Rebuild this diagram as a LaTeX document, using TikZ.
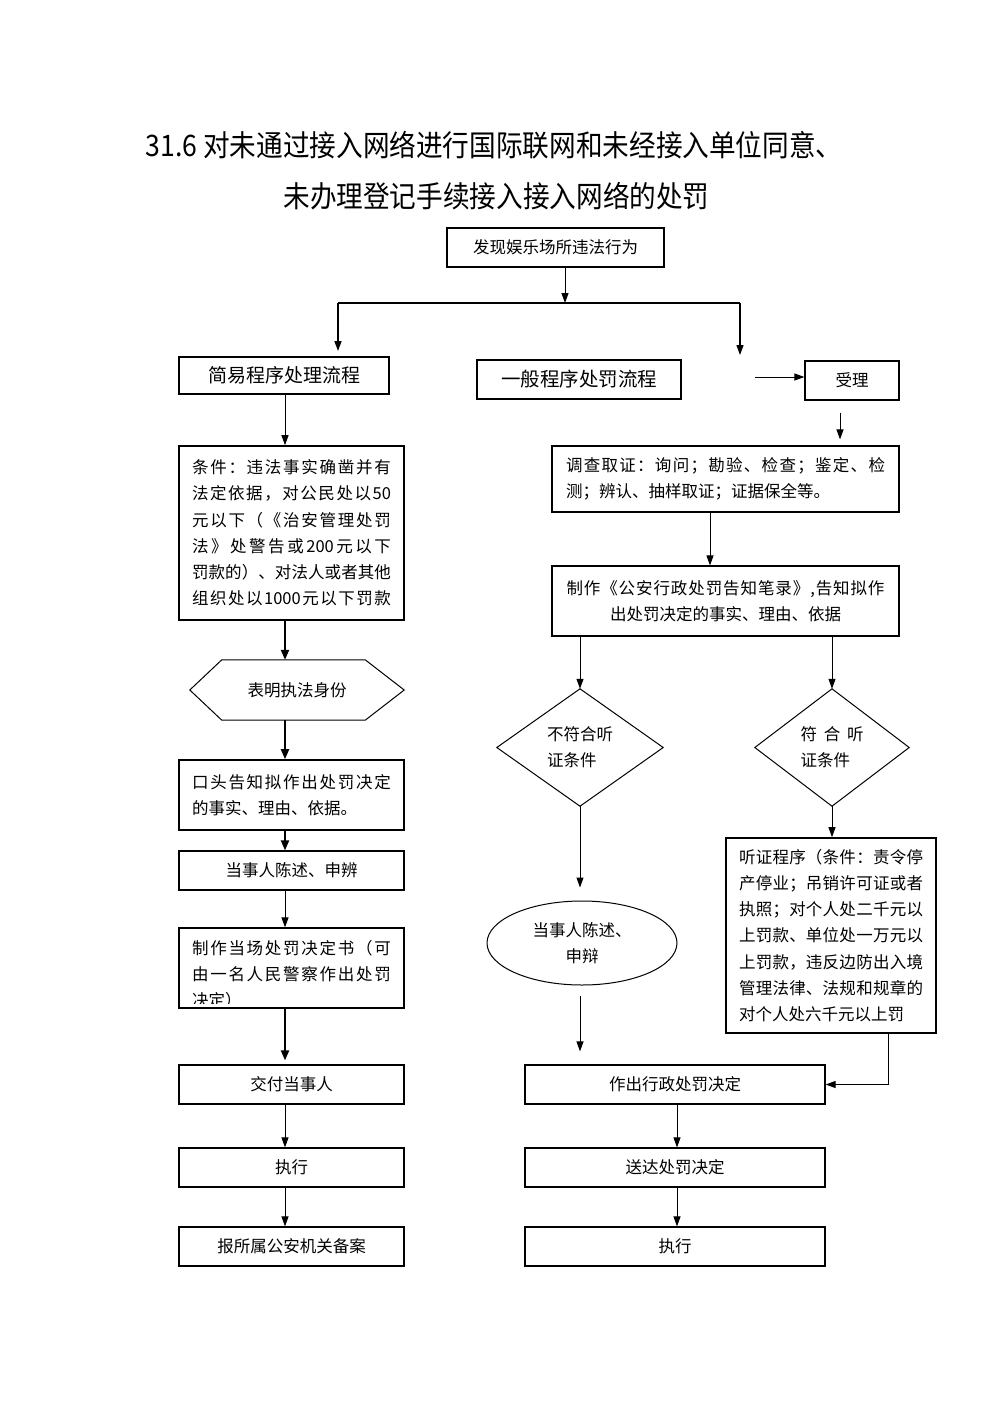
\documentclass[tikz,border=0pt]{standalone}
\usepackage{fontspec}
\usetikzlibrary{arrows.meta,shapes.geometric,calc}
\newfontfamily\cjk{Noto Sans CJK SC}
\newfontfamily\cjkt[FakeStretch=0.9]{Noto Sans CJK SC}
\makeatletter
\def\jl@stop{}
\def\jl@stopm{\jl@stop}
\newcommand\jl[2]{\hbox to #1{\jl@first#2\jl@stop}}
\def\jl@first#1{#1\jl@loop}
\def\jl@loop#1{\def\jl@tmp{#1}\ifx\jl@tmp\jl@stopm\else\hfill#1\expandafter\jl@loop\fi}
\makeatother
\begin{document}
\begin{tikzpicture}[x=1pt,y=-1pt,
  box/.style={draw, line width=1.2pt, inner sep=0pt, font=\cjk\fontsize{16.5}{26.2}\selectfont},
  txt/.style={inner sep=0pt, font=\cjk\fontsize{16.5}{26.2}\selectfont},
  arr/.style={line width=1pt, -{Triangle[length=10pt,width=7pt]}},
  tarr/.style={line width=2pt, -{Triangle[length=10pt,width=8pt]}},
  shp/.style={line width=1pt},
  ttl/.style={inner sep=0pt, font=\cjkt\fontsize{29.6}{32}\selectfont}
]
\useasboundingbox[fill=white] (0,0) rectangle (992,1403);

% title
\node[ttl] (t1) at (494,145) {31.6 对未通过接入网络进行国际联网和未经接入单位同意、};
\node[ttl] (t2) at (496.5,196) {未办理登记手续接入接入网络的处罚};

% helper columns
\coordinate (lx) at (285,0);
\coordinate (rx) at (840,0);
\coordinate (mx) at (710,0);
\coordinate (bx) at (677,0);
\coordinate (tx) at (888,0);

% top
\node[box, minimum width=217, minimum height=39] (faxian) at (555.5,247.5) {发现娱乐场所违法行为};
\coordinate (br) at (565,303);
\coordinate (bl) at (338,303);
\coordinate (brr) at (740,303);
\coordinate (rend) at (740,355);
\coordinate (sa) at (755,377);

\node[box, line width=2pt, font=\cjk\fontsize{19}{20}\selectfont, minimum width=210, minimum height=37] (jianyi) at (284,375.5) {简易程序处理流程};
\node[box, line width=1.6pt, font=\cjk\fontsize{19.5}{20}\selectfont, minimum width=204, minimum height=39] (yiban) at (579,379.5) {一般程序处罚流程};
\node[box, minimum width=94, minimum height=39] (shouli) at (852,380.5) {受理};

\draw[arr] (faxian.south -| br) -- (br);
\draw[line width=2pt] (bl) -- (brr);
\draw[arr, line width=1.6pt, shorten >=5pt] (bl) -- (jianyi.north -| bl);
\draw[arr, line width=1.2pt] (brr) -- (rend);
\draw[arr] (sa) -- (sa -| shouli.west);

% left column
\node[box, line width=1.6pt, minimum width=225, minimum height=174, align=left] (tiaojian) at (291.5,533)
 {\jl{199pt}{条件：违法事实确凿并有}\\
  \jl{199pt}{法定依据，对公民处以{50}}\\
  \jl{199pt}{元以下（《治安管理处罚}\\
  \jl{199pt}{法》处警告或{200}元以下}\\
  \jl{199pt}{罚款的）、对法人或者其他}\\
  \jl{199pt}{组织处以{1000}元以下罚款}};

\node[txt, minimum width=214, minimum height=60] (hexbox) at (297,690) {表明执法身份};
\draw[shp] (hexbox.west) -- ($(hexbox.north west)+(32,0)$) -- ($(hexbox.north east)+(-39,0)$) -- (hexbox.east)
  -- ($(hexbox.south east)+(-39,0)$) -- ($(hexbox.south west)+(32,0)$) -- cycle;

\node[box, line width=1.6pt, minimum width=225, minimum height=70, align=left] (koutou) at (291.5,795)
 {\jl{199pt}{口头告知拟作出处罚决定}\\的事实、理由、依据。};
\node[box, minimum width=225, minimum height=39] (chenshu) at (291.5,870.5) {当事人陈述、申辨};
\node[box, minimum width=225, minimum height=80] (zhizuo) at (291.5,968) {};
\begin{scope}
\clip (179,928) rectangle (404,1003);
\node[txt, align=left] (zhizuotxt) at (291.5,974)
 {\jl{199pt}{制作当场处罚决定书（可}\\
  \jl{199pt}{由一名人民警察作出处罚}\\
  决定）\hspace{145pt}};
\end{scope}
\node[box, minimum width=225, minimum height=39] (jiaofu) at (291.5,1084.5) {交付当事人};
\node[box, minimum width=225, minimum height=39] (zhixing1) at (291.5,1167.5) {执行};
\node[box, minimum width=225, minimum height=39] (beian) at (291.5,1246.5) {报所属公安机关备案};

\draw[arr] (jianyi.south -| lx) -- (tiaojian.north -| lx);
\draw[tarr] (tiaojian.south -| lx) -- (hexbox.north -| lx);
\draw[tarr] (hexbox.south -| lx) -- (koutou.north -| lx);
\draw[tarr] (koutou.south -| lx) -- (chenshu.north -| lx);
\draw[arr] (chenshu.south -| lx) -- (zhizuo.north -| lx);
\draw[tarr, shorten >=4pt] (zhizuo.south -| lx) -- (jiaofu.north -| lx);
\draw[arr] (jiaofu.south -| lx) -- (zhixing1.north -| lx);
\draw[arr] (zhixing1.south -| lx) -- (beian.north -| lx);

% right column
\node[box, minimum width=347, minimum height=66, align=left] (diaocha) at (725.5,479)
 {\jl{319pt}{调查取证：询问；勘验、检查；鉴定、检}\\测；辨认、抽样取证；证据保全等。};
\node[box, minimum width=347, minimum height=70, align=center] (gaozhi) at (725.5,601)
 {\jl{318pt}{制作《公安行政处罚告知笔录》,告知拟作}\\出处罚决定的事实、理由、依据};

\node[txt, minimum width=166, minimum height=117, align=left] (d1box) at (580,747.5) {不符合听\\证条件};
\draw[shp] (d1box.west) -- (d1box.north) -- (d1box.east) -- (d1box.south) -- cycle;
\node[txt, minimum width=154, minimum height=117, align=left] (d2box) at (832,747.5) {\hbox to 63pt{符\hfill 合\hfill 听}\\证条件};
\draw[shp] (d2box.west) -- (d2box.north) -- (d2box.east) -- (d2box.south) -- cycle;

\node[txt, draw, line width=1pt, ellipse, minimum width=190, minimum height=84, align=center] (tuo) at (582,943) {当事人陈述、\\申辩};

\node[box, line width=1.6pt, minimum width=210, minimum height=195, align=left] (tingzheng) at (831,935.5)
 {\jl{184pt}{听证程序（条件：责令停}\\
  \jl{184pt}{产停业；吊销许可证或者}\\
  \jl{184pt}{执照；对个人处二千元以}\\
  \jl{184pt}{上罚款、单位处一万元以}\\
  \jl{184pt}{上罚款，违反边防出入境}\\
  \jl{184pt}{管理法律、法规和规章的}\\
  对个人处六千元以上罚};

\node[box, minimum width=300, minimum height=39] (zuochu) at (675,1084.5) {作出行政处罚决定};
\node[box, minimum width=300, minimum height=39] (songda) at (675,1167.5) {送达处罚决定};
\node[box, minimum width=300, minimum height=39] (zhixing2) at (675,1246.5) {执行};

\draw[arr, shorten <=12pt, shorten >=6pt] (shouli.south -| rx) -- (diaocha.north -| rx);
\draw[arr] (diaocha.south -| mx) -- (gaozhi.north -| mx);
\draw[arr] (gaozhi.south -| d1box.north) -- (d1box.north);
\draw[arr] (gaozhi.south -| d2box.north) -- (d2box.north);
\draw[arr, shorten >=13pt] (d1box.south) -- (tuo.north -| d1box.south);
\draw[arr] (d2box.south) -- (tingzheng.north -| d2box.south);
\draw[arr, shorten <=10pt, shorten >=13pt] (tuo.south -| d1box.south) -- (zuochu.north -| d1box.south);
\draw[arr] (tingzheng.south -| tx) |- (zuochu.east);
\draw[arr] (zuochu.south -| bx) -- (songda.north -| bx);
\draw[arr] (songda.south -| bx) -- (zhixing2.north -| bx);
\end{tikzpicture}
\end{document}
